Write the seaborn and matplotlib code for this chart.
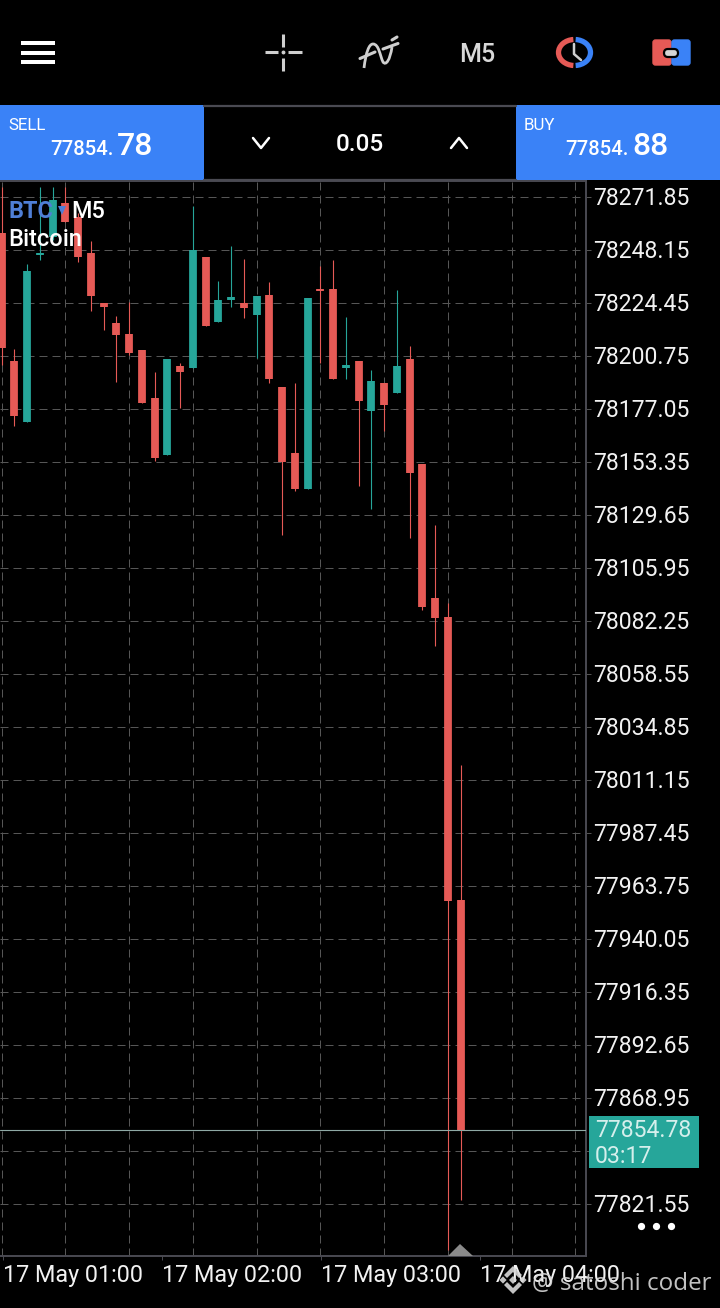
import numpy as np
import pandas as pd
import matplotlib
matplotlib.use("Agg")
import matplotlib.pyplot as plt
import seaborn as sns
from matplotlib.patches import Rectangle, FancyBboxPatch, Arc, Polygon, PathPatch
from matplotlib.path import Path
from matplotlib.transforms import ScaledTranslation

# ---------- data ----------
open_ = [78255.89, 78198.65, 78171.51, 78246.19, 78254.10, 78269.30, 78263.04, 78246.95, 78224.59,
         78215.64, 78210.73, 78203.57, 78182.11, 78156.62, 78196.42, 78195.52, 78245.16, 78216.09,
         78226.06, 78224.59, 78219.22, 78228.16, 78187.03, 78157.51, 78141.41, 78230.85, 78230.85,
         78195.52, 78198.65, 78176.29, 78188.81, 78184.34, 78199.55, 78152.59, 78092.67, 78084.18,
         77957.63]
close = [78204.60, 78174.06, 78238.90, 78246.95, 78270.65, 78260.81, 78245.16, 78227.50, 78222.80,
         78210.28, 78202.23, 78179.87, 78155.28, 78199.55, 78193.73, 78248.29, 78214.30, 78225.93,
         78227.27, 78222.35, 78227.72, 78190.60, 78153.49, 78141.41, 78226.82, 78229.95, 78190.60,
         78196.86, 78180.76, 78189.71, 78178.98, 78196.42, 78148.57, 78088.65, 78083.73, 77957.18,
         77854.78]
high = [78276.46, 78204.02, 78242.03, 78276.46, 78276.46, 78276.46, 78264.83, 78252.31, 78224.59,
        78218.77, 78225.03, 78203.57, 78193.73, 78199.55, 78197.76, 78267.96, 78245.16, 78234.43,
        78250.08, 78244.26, 78227.72, 78233.98, 78187.03, 78188.81, 78226.82, 78241.13, 78243.82,
        78218.33, 78198.65, 78194.63, 78188.81, 78230.40, 78205.36, 78152.59, 78125.32, 78090.44,
        78017.99]
low = [78196.86, 78169.59, 78171.51, 78243.82, 78252.76, 78260.81, 78242.92, 78221.01, 78212.51,
       78189.26, 78201.33, 78179.87, 78153.93, 78156.62, 78177.63, 78195.52, 78214.30, 78216.09,
       78222.80, 78217.88, 78199.99, 78188.81, 78120.84, 78140.52, 78141.41, 78197.76, 78190.60,
       78190.60, 78142.75, 78132.47, 78167.35, 78184.34, 78119.50, 78087.31, 78071.21, 77801.12,
       77823.48]
price_labels = ["78271.85", "78248.15", "78224.45", "78200.75", "78177.05", "78153.35", "78129.65",
                "78105.95", "78082.25", "78058.55", "78034.85", "78011.15", "77987.45", "77963.75",
                "77940.05", "77916.35", "77892.65", "77868.95", "", "77821.55"]
price_ticks = [78271.85, 78248.15, 78224.45, 78200.75, 78177.05, 78153.35, 78129.65,
               78105.95, 78082.25, 78058.55, 78034.85, 78011.15, 77987.45, 77963.75,
               77940.05, 77916.35, 77892.65, 77868.95, 77845.25, 77821.55]
time_labels = ["17 May 01:00", "17 May 02:00", "17 May 03:00", "17 May 04:00"]
time_ticks = [0.11, 12.58, 25.05, 37.53]
grid_candles = [0, 5, 10, 15, 20, 25, 30, 35, 40, 45]
last_price = 77854.78

RED = "#e65a56"
GREEN = "#26a69a"
BLUE = "#3a82f7"
GRID = "#565656"
EDGE = "#4a4a52"

sns.set_theme(style="dark", rc={"axes.facecolor": "black", "figure.facecolor": "black"})
plt.rcParams["font.family"] = ["Roboto", "DejaVu Sans"]

# ---------- long tables ----------
n = len(open_)
idx = np.arange(n)
direction = ["up" if c > o else "down" for o, c in zip(open_, close)]
wicks = pd.DataFrame({
    "candle": np.r_[idx, idx], "price": np.r_[low, high], "dir": direction * 2})
bodies = pd.DataFrame({
    "candle": np.r_[idx, idx], "price": np.r_[open_, close], "dir": direction * 2})
wicks["x"] = wicks["candle"]
bodies["x"] = bodies["candle"]
palette = {"up": GREEN, "down": RED}

fig = plt.figure(figsize=(7.2, 13.08), dpi=100, facecolor="black")
ax = fig.add_axes([0, (1308 - 1256) / 1308, 586 / 720, (1256 - 181) / 1308])
ax.set_facecolor("black")
ax.set_axisbelow(True)

sns.lineplot(data=wicks, x="x", y="price", hue="dir", units="candle", estimator=None, sort=False,
             palette=palette, linewidth=0.8, legend=False, ax=ax, solid_capstyle="butt", zorder=3)
sns.lineplot(data=bodies, x="x", y="price", hue="dir", units="candle", estimator=None, sort=False,
             palette=palette, linewidth=5.6, legend=False, ax=ax, solid_capstyle="butt", zorder=4)

ax.axhline(last_price, color="#8fa9a5", lw=0.8, zorder=5)

ax.set_xlim(-0.1216, 45.84)
ax.set_ylim(77798.43, 78279.14)
ax.set_xlabel("")
ax.set_ylabel("")

ax.yaxis.tick_right()
ax.set_yticks(price_ticks)
ax.set_yticklabels(price_labels)
ax.tick_params(axis="y", length=3.6, width=0.7, color=GRID, pad=1.2, labelsize=16.6,
               labelcolor="#f2f2f2", right=True, left=False)
ax.set_xticks(time_ticks)
ax.set_xticklabels(time_labels, ha="left")
ax.tick_params(axis="x", length=3, width=0.7, color=EDGE, pad=2.6, labelsize=16.8,
               labelcolor="#f2f2f2", bottom=True)
up_one = ScaledTranslation(0, 1 / 100, fig.dpi_scale_trans)
for lab in ax.get_yticklabels():
    lab.set_transform(lab.get_transform() + up_one)

dash = (0, (8, 5))
ax.grid(False)
for p in price_ticks:
    ax.axhline(p, color=GRID, lw=0.72, ls=dash, zorder=1)
for g in grid_candles:
    ax.axvline(g, color=GRID, lw=0.72, ls=dash, zorder=1)

for side, vis in [("left", False), ("top", True), ("right", True), ("bottom", True)]:
    ax.spines[side].set_visible(vis)
    ax.spines[side].set_color(EDGE)
    ax.spines[side].set_linewidth(1.4)

# ---------- overlay (app chrome) in pixel space ----------
ov = fig.add_axes([0, 0, 1, 1], zorder=10)
ov.set_xlim(0, 720)
ov.set_ylim(1308, 0)
ov.axis("off")
ov.patch.set_alpha(0)

def T(x, y, s, size, color="white", ha="left", va="baseline", weight="normal", **kw):
    ov.text(x, y, s, fontsize=size, color=color, ha=ha, va=va, weight=weight, **kw)

# top icons
for y in (41, 51, 60):
    ov.add_patch(Rectangle((21, y), 34, 4, color="white", lw=0))
CG = "#cfcfcf"
for a, b in [((265, 52), (278, 52)), ((288, 52), (302, 52)), ((283, 34), (283, 47)), ((283, 58), (283, 71))]:
    ov.plot(*zip(a, b), color=CG, lw=2.2, solid_capstyle="butt")
ov.plot([283], [52], "o", color=CG, ms=1.8)
ov.add_patch(PathPatch(Path([(364, 68), (366, 52), (369, 44), (373, 44), (379, 44), (380, 56), (383, 62),
                             (386, 66), (390, 60), (392, 47)],
                            [Path.MOVETO] + [Path.CURVE4] * 9),
                       fc="none", ec=CG, lw=2))
ov.plot([360, 375], [58.5, 52], color=CG, lw=2.2)
ov.plot([383, 398], [49, 43.5], color=CG, lw=2.2)
ov.plot([392, 397], [40, 37], color=CG, lw=2.2)
T(477, 62, "M5", 18, color="#d8d8d8", ha="center", weight="medium")
ov.add_patch(Arc((574.5, 52.5), 32, 26, theta1=95, theta2=265, color=RED, lw=3.8))
ov.add_patch(Arc((574.5, 52.5), 32, 26, theta1=-85, theta2=85, color=BLUE, lw=3.8))
ov.plot([574, 574, 581], [44, 54, 60], color=CG, lw=1.8)
ov.add_patch(FancyBboxPatch((653, 40), 18, 25, boxstyle="round,pad=0,rounding_size=2.5", fc=RED, ec=RED, lw=1))
ov.add_patch(FancyBboxPatch((672, 40), 18, 25, boxstyle="round,pad=0,rounding_size=2.5", fc=BLUE, ec=BLUE, lw=1))
ov.add_patch(FancyBboxPatch((664, 49), 14, 8, boxstyle="round,pad=0,rounding_size=4", fc="#d5d5d5", ec="black", lw=1.6))

# trade bar
ov.add_patch(Rectangle((0, 105), 204, 75, color=BLUE, lw=0))
ov.add_patch(Rectangle((516, 105), 204, 75, color=BLUE, lw=0))
ov.plot([204, 516], [106, 106], color=EDGE, lw=1.6)
ov.plot([204, 516], [179.5, 179.5], color=EDGE, lw=1.6)
T(8, 130, "SELL", 12.2)
T(524, 130, "BUY", 12.2)
T(50, 155, "77854.", 14.6, weight="medium")
T(117, 155, "78", 23, weight="medium")
T(565, 155, "77854.", 14.6, weight="medium")
T(632, 155, "88", 23, weight="medium")
T(360, 151, "0.05", 17.5, ha="center", weight="medium")
ov.plot([253, 261, 269], [138, 148, 138], color="white", lw=1.8)
ov.plot([451, 459, 467], [148, 138, 148], color="white", lw=1.8)

# symbol label
T(8, 218, "BTC", 16.8, color="#4f7fd6", weight="bold")
ov.add_patch(Polygon([(58, 206), (66, 206), (62, 215)], color="#4f7fd6", lw=0))
T(71, 218, "M5", 16.8, weight="medium")
T(8, 246, "Bitcoin", 17, weight="medium")

# price box
ov.add_patch(Rectangle((589, 1116), 110, 52, color=GREEN, lw=0))
T(595, 1137, "77854.78", 16.6, color="#d5efec")
T(595, 1163, "03:17", 16.6, color="#d5efec")
for x in (641, 656, 671):
    ov.plot([x], [1226], "o", color="white", ms=4.2)
ov.add_patch(Polygon([(448, 1256), (460, 1244), (473, 1256)], color="#8a8a8a", lw=0))

# watermark
WM = "#d8d8d8"
for cx, cy, r in [(513, 1280, 4), (503, 1280, 3.6), (523, 1280, 3.6)]:
    ov.add_patch(Polygon([(cx - r, cy), (cx, cy - r), (cx + r, cy), (cx, cy + r)], color=WM, alpha=0.9, lw=0))
for s in (1, -1):
    ov.add_patch(Polygon([(513, 1280 - 14 * s), (522, 1280 - 5 * s), (519, 1280 - 2 * s),
                          (513, 1280 - 8 * s), (507, 1280 - 2 * s), (504, 1280 - 5 * s)],
                         color=WM, alpha=0.9, lw=0))
T(532, 1290, "@ satoshi coder", 17.4, color=WM, alpha=0.9, family=["Open Sans", "Roboto"])

fig.savefig("out.png", dpi=100, facecolor="black")
